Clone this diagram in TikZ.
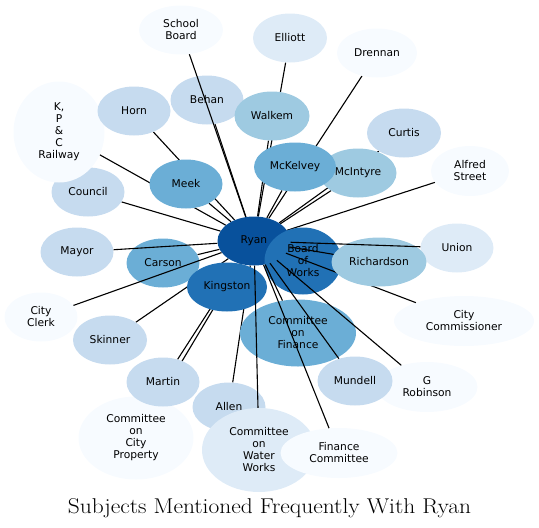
\documentclass[tikz,border=0pt]{standalone}
\usepackage{fontspec}
\newfontfamily\labelfont{DejaVu Sans}
\usetikzlibrary{shapes.geometric,backgrounds}

\definecolor{bluea}{HTML}{F7FBFF}
\definecolor{blueb}{HTML}{DEEBF7}
\definecolor{bluec}{HTML}{C6DBEF}
\definecolor{blued}{HTML}{9ECAE1}
\definecolor{bluee}{HTML}{6BAED6}
\definecolor{bluef}{HTML}{2171B5}
\definecolor{blueg}{HTML}{08519C}

\tikzset{
  subj/.style={ellipse, fill=#1, inner sep=0pt, minimum width=73pt,
    minimum height=49pt, align=center,
    font=\labelfont\fontsize{10.7}{12}\selectfont},
  subj/.default=bluec,
  link/.style={line width=1.1pt}
}

\begin{document}
\begin{tikzpicture}[x=1pt, y=-1pt]
\useasboundingbox (0,0) rectangle (539,528);

   % outer ring, back to front
   \node (ccp) [subj=bluea, minimum width=115pt, minimum height=83pt] at (136,438) {Committee\\on\\City\\Property};
   \node (martin) [subj] at (163,382) {Martin};
   \node (allen) [subj] at (229,407) {Allen};
   \node (cww) [subj=blueb, minimum width=114pt, minimum height=84pt] at (259,450) {Committee\\on\\Water\\Works};
   \node (fincomm) [subj=bluea, minimum width=117pt, minimum height=50pt] at (339,453) {Finance\\Committee};
   \node (grob) [subj=bluea, minimum width=101pt, minimum height=50pt] at (427,387) {G\\Robinson};
   \node (mundell) [subj, minimum width=75pt] at (355,381) {Mundell};
   \node (council) [subj] at (88,192) {Council};
   \node (railway) [subj=bluea, minimum width=91pt, minimum height=101pt] at (59,132) {K,\\P\\\&\\C\\Railway};
   \node (horn) [subj] at (134,111) {Horn};
   \node (behan) [subj] at (207,100) {Behan};
   \node (walkem) [subj=blued, minimum width=75pt] at (272,116) {Walkem};
   \node (school) [subj=bluea, minimum width=84pt] at (181,30) {School\\Board};
   \node (elliott) [subj=blueb, minimum width=74pt] at (290,38) {Elliott};
   \node (drennan) [subj=bluea, minimum width=80pt] at (377,53) {Drennan};
   \node (curtis) [subj, minimum width=74pt] at (404,133) {Curtis};
   \node (mcintyre) [subj=blued, minimum width=77pt] at (358,173) {McIntyre};
   \node (mckelvey) [subj=bluee, minimum width=82pt] at (295,167) {McKelvey};
   \node (alfred) [subj=bluea, minimum width=78pt, minimum height=50pt] at (470,171) {Alfred\\Street};
   \node (union) [subj=blueb] at (457,248) {Union};
   \node (clerk) [subj=bluea] at (41,317) {City\\Clerk};
   \node (skinner) [subj, minimum width=74pt] at (110,340) {Skinner};
   \node (mayor) [subj] at (77,252) {Mayor};

   % inner ring
   \node (meek) [subj=bluee] at (186,184) {Meek};
   \node (carson) [subj=bluee] at (163,263) {Carson};
   \node (kingston) [subj=bluef, minimum width=80pt] at (227,287) {Kingston};
   \node (citycomm) [subj=bluea, minimum width=140pt, minimum height=50pt] at (464,321) {City\\Commissioner};
   \node (cof) [subj=bluee, minimum width=116pt, minimum height=67pt] at (298,333) {Committee\\on\\Finance};
   \node (ryan) [subj=blueg] at (254,241) {Ryan};
   \node (bow) [subj=bluef, minimum width=77pt, minimum height=67pt] at (303,261) {Board\\of\\Works};
   \draw [link] (ryan) -- (citycomm);
   \node (richardson) [subj=blued, minimum width=95pt] at (379,262) {Richardson};

   % links hidden behind the nodes
   \begin{pgfonlayer}{background}
   \draw [link] (ryan) -- (elliott);
   \draw [link] (ryan) -- (drennan);
   \draw [link] (ryan) -- (curtis);
   \draw [link] (ryan) -- (horn);
   \draw [link] (ryan) -- (railway);
   \draw [link] (ryan) -- (allen);
   \draw [link] (ryan) -- (martin);
   \draw [link] (ryan) -- (ccp);
   \draw [link] (ryan) -- (skinner);
   \draw [link] (ryan) -- (behan);
   \draw [link] (ryan) -- (walkem);
   \draw [link] (ryan) -- (mckelvey);
   \draw [link] (ryan) -- (mcintyre);
   \draw [link] (ryan) -- (alfred);
   \draw [link] (ryan) -- (council);
   \draw [link] (ryan) -- (meek);
   \draw [link] (ryan) -- (kingston);
   \draw [link] (ryan) -- (carson);
   \end{pgfonlayer}

   % links on top
   \draw [link] (ryan) -- (school);
   \draw [link] (ryan) -- (union);
   \draw [link] (ryan) -- (richardson);
   \draw [link] (ryan) -- (grob);
   \draw [link] (ryan) -- (mundell);
   \draw [link] (ryan) -- (fincomm);
   \draw [link] (ryan) -- (cww);
   \draw [link] (ryan) -- (clerk);
   \draw [link] (ryan) -- (mayor);
   \draw [link] (ryan) -- (cof);

   \node (title) [anchor=base, font=\fontsize{21.4}{24}\selectfont] at (269.5,513) {\scalebox{1.095}[1]{Subjects Mentioned Frequently With Ryan}};
\end{tikzpicture}
\end{document}
